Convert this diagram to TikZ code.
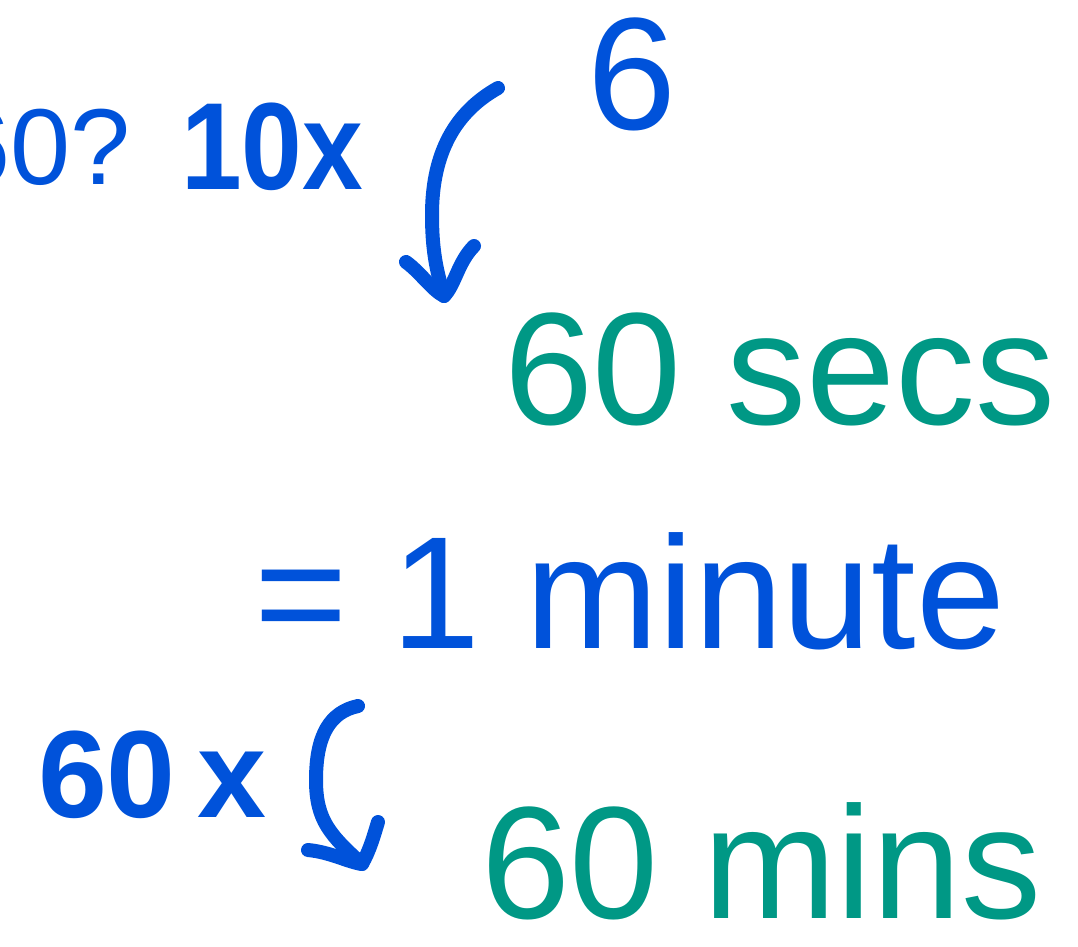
\documentclass[tikz,border=0pt]{standalone}
\usepackage{fontspec}
\setmainfont{Liberation Sans}
\definecolor{inkblue}{RGB}{0,82,218}
\definecolor{inkteal}{RGB}{0,152,133}
\tikzset{
  typed/.style={inner sep=0pt, outer sep=0pt, anchor=base west},
  big/.style={font=\fontsize{160}{165}\selectfont},
  hand/.style={inner sep=0pt, outer sep=0pt, text=inkblue, font=\fontsize{124}{126}\selectfont\bfseries},
  stroke/.style={draw=inkblue, line width=14pt, line cap=round, line join=round},
}
\begin{document}
\begin{tikzpicture}[x=1pt,y=-1pt]
\useasboundingbox (0,0) rectangle (1078,946);
\clip (0,0) rectangle (1078,946);
% typed texts
\node[typed, anchor=base east, text=inkblue, font=\fontsize{108}{110}\selectfont] (q) at (131,184) {60?};
\node[typed, text=inkblue, big] (six) at (587,129) {6};
\node[typed, text=inkteal, big] (secs) at (504,424) {60 secs};
\node[typed, text=inkblue, big] (minute) at (254,648) {= 1 minute};
\node[typed, text=inkteal, big, text depth=0pt] (mins) at (481,918) {60 mins};
% handwritten labels
\node[hand, anchor=base west, xscale=0.88] (ten) at (181,189) {10x};
\node[hand, anchor=base west] (sixty) at (38,817) {60\kern22pt x};
% top curved arrow
\coordinate (a1s) at (498,88);
\coordinate (a1t) at (444,296);
\coordinate (a1l) at (406,262);
\coordinate (a1r) at (474,246);
\draw[stroke] (a1s) .. controls (450,115) and (432,160) .. (432,215)
  .. controls (432,255) and (438,275) .. (a1t);
\draw[stroke] (a1l) .. controls (420,272) and (432,290) .. (a1t)
  .. controls (455,285) and (458,262) .. (a1r);
% bottom curved arrow
\coordinate (a2s) at (358,706);
\coordinate (a2t) at (362,864);
\coordinate (a2l) at (308,850);
\coordinate (a2r) at (378,822);
\draw[stroke] (a2s) .. controls (330,712) and (316,735) .. (316,780)
  .. controls (316,820) and (330,835) .. (a2t);
\draw[stroke] (a2l) .. controls (330,852) and (348,862) .. (a2t)
  .. controls (370,850) and (374,835) .. (a2r);
\end{tikzpicture}
\end{document}
